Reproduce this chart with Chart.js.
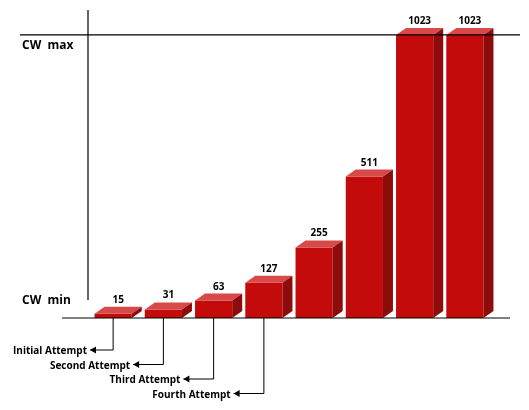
<!DOCTYPE html>
<html>
<head>
<meta charset="utf-8">
<script src="https://cdn.jsdelivr.net/npm/chart.js@4/dist/chart.umd.min.js"></script>
<style>
  body { margin: 0; background: #fff; }
</style>
</head>
<body>
<canvas id="cw" width="529" height="410"></canvas>
<script>
// contention window per attempt
const attempts = ['Initial Attempt', 'Second Attempt', 'Third Attempt', 'Fourth Attempt', '5th', '6th', '7th', '8th'];
const cwValues = [15, 31, 63, 127, 255, 511, 1023, 1023];
const cwMin = 0;
const cwMax = 1023;
// which bars get an arrow label underneath
const labelledBars = [0, 1, 2, 3];

// 3D faces, value labels, axes lines and arrows
const decor = {
  id: 'decor',
  afterDatasetsDraw(chart) {
    const ctx = chart.ctx;
    const y = chart.scales.y;
    const bars = chart.getDatasetMeta(0).data;
    const dx = 10, dy = 7;

    bars.forEach((b, i) => {
      const l = b.x - b.width / 2, r = b.x + b.width / 2;
      // top
      ctx.fillStyle = '#d84a4a';
      ctx.beginPath();
      ctx.moveTo(l, b.y); ctx.lineTo(l + dx, b.y - dy);
      ctx.lineTo(r + dx, b.y - dy); ctx.lineTo(r, b.y); ctx.closePath(); ctx.fill();
      // side
      ctx.fillStyle = '#8e0b0b';
      ctx.beginPath();
      ctx.moveTo(r, b.y); ctx.lineTo(r + dx, b.y - dy);
      ctx.lineTo(r + dx, b.base - dy); ctx.lineTo(r, b.base); ctx.closePath(); ctx.fill();
      // value
      ctx.fillStyle = '#000';
      ctx.font = 'bold 10px "Open Sans", sans-serif';
      ctx.textAlign = 'center';
      ctx.fillText(cwValues[i], b.x + dx / 2, b.y - dy - 4);
    });

    const yMax = y.getPixelForValue(cwMax);
    const yMin = y.getPixelForValue(cwMin);
    ctx.strokeStyle = '#000';
    ctx.lineWidth = 1.2;
    ctx.beginPath();
    ctx.moveTo(20, yMax); ctx.lineTo(520, yMax);
    ctx.moveTo(62, yMin); ctx.lineTo(510, yMin);
    ctx.moveTo(88, 10); ctx.lineTo(88, 300);
    ctx.stroke();

    ctx.font = 'bold 12px "Open Sans", sans-serif';
    ctx.textAlign = 'left';
    ctx.fillText('CW  max', 22, yMax + 14);
    ctx.fillText('CW  min', 22, yMin - 14);

    // arrows to attempt labels
    ctx.font = 'bold 10px "Open Sans", sans-serif';
    ctx.textAlign = 'right';
    labelledBars.forEach((i, k) => {
      const b = bars[i];
      const ay = yMin + 32 + k * 14.5;
      const ax = (i === 0 ? 90 : bars[i - 1].x + 20);
      ctx.lineWidth = 1;
      ctx.beginPath();
      ctx.moveTo(b.x, yMin); ctx.lineTo(b.x, ay); ctx.lineTo(ax, ay);
      ctx.stroke();
      ctx.beginPath();
      ctx.moveTo(ax, ay); ctx.lineTo(ax + 6, ay - 3.5); ctx.lineTo(ax + 6, ay + 3.5); ctx.closePath();
      ctx.fill();
      ctx.fillText(attempts[i], ax - 3, ay + 4);
    });
  }
};

new Chart(document.getElementById('cw'), {
  type: 'bar',
  data: {
    labels: attempts,
    datasets: [{
      data: cwValues,
      backgroundColor: '#c40b0b',
      barPercentage: 0.74,
      categoryPercentage: 1
    }]
  },
  options: {
    responsive: false,
    animation: false,
    layout: { padding: { left: 88, right: 39, top: 5, bottom: 92 } },
    plugins: { legend: { display: false }, tooltip: { enabled: false } },
    scales: {
      x: { display: false },
      y: { display: false, min: 0, max: 1131 }
    }
  },
  plugins: [decor]
});
</script>
</body>
</html>
